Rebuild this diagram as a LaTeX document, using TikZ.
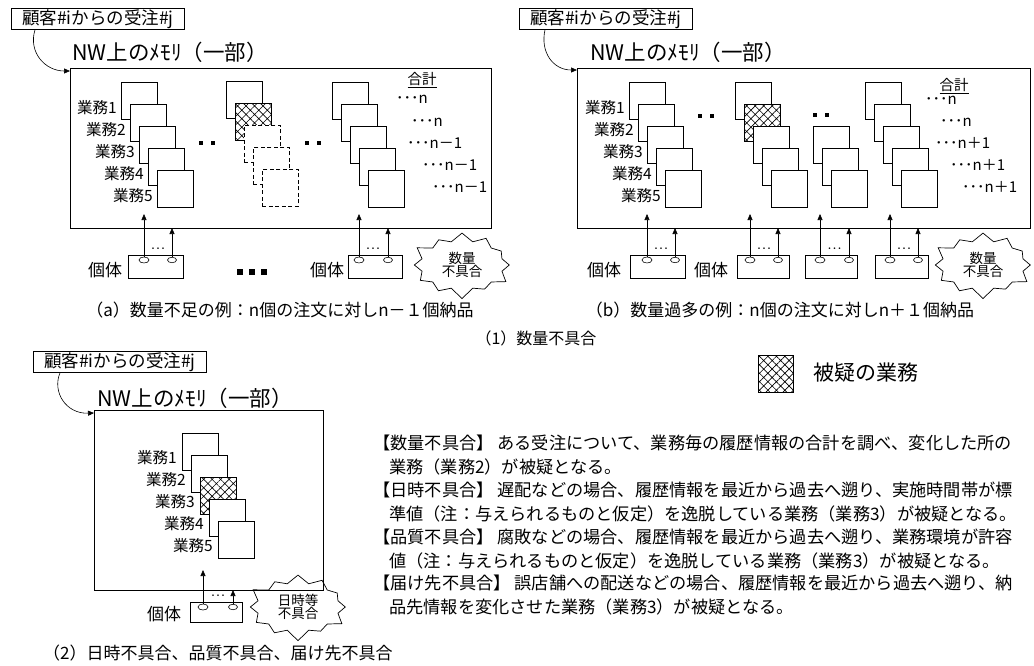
\documentclass[tikz,border=0pt]{standalone}
\usepackage{fontspec}
\setmainfont{Noto Sans CJK JP}
\usetikzlibrary{shapes.geometric,shapes.symbols,patterns.meta,arrows.meta}
\newcommand\myfs[1]{\fontsize{#1pt}{#1pt}\selectfont}
\tikzset{
  gbox/.style={draw,line width=0.8pt,fill=white,minimum width=36pt,minimum height=37pt,inner sep=0pt,anchor=north west},
  dbox/.style={gbox,dash pattern=on 4pt off 2.5pt},
  hbox/.style={gbox,postaction={pattern={Hatch[angle=45,distance=6pt,line width=0.6pt]}}},
  mem/.style={draw,line width=0.8pt,inner sep=0pt,anchor=north west},
  lbl/.style={draw,line width=0.8pt,anchor=north west,minimum width=173pt,minimum height=21pt,inner sep=1pt,font=\myfs{17.5}},
  nwt/.style={anchor=base west,inner sep=0pt,font=\myfs{21.5}},
  gyo/.style={anchor=east,inner sep=0pt,font=\myfs{15.5}},
  tot/.style={anchor=west,inner sep=0pt,font=\myfs{15}},
  sq/.style={fill=black,minimum size=4.5pt,inner sep=0pt},
  ind/.style={draw,line width=0.7pt,anchor=north west,minimum height=23pt,inner sep=0pt},
  indt/.style={inner sep=0pt,font=\myfs{17}},
  oval/.style={ellipse,draw,line width=0.6pt,fill=white,minimum width=10pt,minimum height=6pt,inner sep=0pt},
  arr/.style={line width=0.6pt,-{Triangle[length=6pt,width=5pt]}},
  burst/.style={starburst,draw,line width=0.7pt,starburst points=12,starburst point height=11pt,minimum width=100pt,minimum height=58pt,inner xsep=9pt,inner ysep=4pt,align=center,font=\myfs{13.5}},
  capt/.style={inner sep=0pt,font=\myfs{17}},
  body/.style={anchor=west,inner sep=0pt,font=\myfs{17.2}},
  tdots/.style={inner sep=0pt,font=\myfs{10}},
}
\begin{document}
\begin{tikzpicture}[x=1pt,y=-1pt]
\fill[white] (0,0) rectangle (1034,666);
\useasboundingbox (0,0) rectangle (1034,666);

% ================= Panel (a) =================
\node[lbl] (labA) at (11,8) {顧客\#iからの受注\#j};
\node[nwt] (nwA) at (72,61) {NW上のﾒﾓﾘ（一部）};
\node[mem,minimum width=421pt,minimum height=160pt] (memA) at (70,68) {};
\draw[arr] ([xshift=24pt]labA.south west) .. controls (28,52) and (45,71) .. ([yshift=-3pt]memA.north west);

\foreach \i in {1,...,5} \node[gbox] (A1b\i) at ({121+(\i-1)*9},{82+(\i-1)*22}) {};
\foreach \i in {1,...,5} \node[gyo] (A1l\i) at ({121+(\i-1)*9-4},{82+(\i-1)*22+26}) {業務\i};
\foreach \i/\st in {1/gbox,2/hbox,3/dbox,4/dbox,5/dbox} \node[\st] (A2b\i) at ({226+(\i-1)*9},{81+(\i-1)*22}) {};
\foreach \i in {1,...,5} \node[gbox] (A3b\i) at ({332+(\i-1)*9},{82+(\i-1)*22}) {};

\node[sq] (Ad1) at (201,143) {};
\node[sq] (Ad2) at (213,143) {};
\node[sq] (Ad3) at (307,143) {};
\node[sq] (Ad4) at (319,143) {};

\node[inner sep=0pt,font=\myfs{14.5}] (Asum) at (422,80) {\underline{合計}};
\node[tot] (At1) at (396,99) {･･･n};
\node[tot] (At2) at (411,122) {･･･n};
\node[tot] (At3) at (407,143) {･･･n－1};
\node[tot] (At4) at (422,165) {･･･n－1};
\node[tot] (At5) at (432,187) {･･･n－1};

\node[ind,minimum width=55pt] (Ai1) at (128,255) {};
\node[indt] (Ait1) at (105,270) {個体};
\node[oval] (Ao1) at (144,260) {};
\node[oval,minimum width=9pt,minimum height=5.5pt] (Ao2) at (172,260) {};
\coordinate (Ae1) at (144,214);
\coordinate (Ae2) at (172,228);
\draw[arr] (Ao1.north) -- (Ae1);
\draw[arr] (Ao2.north) -- (Ae2);
\node[tdots] (Aid1) at (158,250) {･･･};

\node[sq,minimum size=5.5pt] (Ab1) at (240,272) {};
\node[sq,minimum size=5.5pt] (Ab2) at (252,272) {};
\node[sq,minimum size=5.5pt] (Ab3) at (264,272) {};

\node[ind,minimum width=54pt] (Ai2) at (348,255) {};
\node[indt] (Ait2) at (327,270) {個体};
\node[oval] (Ao3) at (359,260) {};
\node[oval,minimum width=9pt,minimum height=5.5pt] (Ao4) at (388,260) {};
\coordinate (Ae3) at (359,214);
\coordinate (Ae4) at (388,228);
\draw[arr] (Ao3.north) -- (Ae3);
\draw[arr] (Ao4.north) -- (Ae4);
\node[tdots] (Aid2) at (373,250) {･･･};

\node[burst] (starA) at (462,265) {数量\\不具合};
\node[capt] (capA) at (280,310) {（a）数量不足の例：n個の注文に対しn－１個納品};

% ================= Panel (b) =================
\node[lbl] (labB) at (519,8) {顧客\#iからの受注\#j};
\node[nwt] (nwB) at (590,61) {NW上のﾒﾓﾘ（一部）};
\node[mem,minimum width=453pt,minimum height=160pt] (memB) at (577,68) {};
\draw[arr] ([xshift=26pt]labB.south west) .. controls (540,52) and (553,70) .. ([yshift=-2pt]memB.north west);

\foreach \i in {1,...,5} \node[gbox] (B1b\i) at ({629+(\i-1)*9},{82+(\i-1)*22}) {};
\foreach \i in {1,...,5} \node[gyo] (B1l\i) at ({629+(\i-1)*9-4},{82+(\i-1)*22+26}) {業務\i};
\foreach \i/\st in {1/gbox,2/hbox,3/gbox,4/gbox,5/gbox} \node[\st] (B2b\i) at ({735+(\i-1)*9},{82+(\i-1)*22}) {};
\foreach \i in {3,4,5} \node[gbox] (B3b\i) at ({795+(\i-1)*9},{82+(\i-1)*22}) {};
\foreach \i in {1,...,5} \node[gbox] (B4b\i) at ({865+(\i-1)*9},{82+(\i-1)*22}) {};

\node[sq] (Bd1) at (700,116) {};
\node[sq] (Bd2) at (712,116) {};
\node[sq] (Bd3) at (815,115) {};
\node[sq] (Bd4) at (827,115) {};

\node[inner sep=0pt,font=\myfs{14.5}] (Bsum) at (954,86) {\underline{合計}};
\node[tot] (Bt1) at (925,100) {･･･n};
\node[tot] (Bt2) at (940,122) {･･･n};
\node[tot] (Bt3) at (935,143) {･･･n＋1};
\node[tot] (Bt4) at (950,165) {･･･n＋1};
\node[tot] (Bt5) at (962,187) {･･･n＋1};

\node[indt] (Bit1) at (604,270) {個体};
\node[indt] (Bit2) at (711,270) {個体};
\foreach \k/\bx/\bw/\la/\sa in {1/630/55/647/675,2/737/52/750/778,3/805/52/820/849,4/875/53/890/918}{
  \node[ind,minimum width=\bw pt] (Bi\k) at (\bx,255) {};
  \node[oval] (Bol\k) at (\la,260) {};
  \node[oval,minimum width=9pt,minimum height=5.5pt] (Bos\k) at (\sa,260) {};
  \coordinate (Bel\k) at (\la,214);
  \coordinate (Bes\k) at (\sa,228);
  \draw[arr] (Bol\k.north) -- (Bel\k);
  \draw[arr] (Bos\k.north) -- (Bes\k);
  \node[tdots] (Bid\k) at ({(\la+\sa)/2},250) {･･･};
}
\node[burst,minimum width=95pt] (starB) at (983,265) {数量\\不具合};
\node[capt] (capB) at (780,310) {（b）数量過多の例：n個の注文に対しn＋１個納品};

\node[inner sep=0pt,font=\myfs{16}] (cap1) at (536,338) {（1）数量不具合};

% legend
\node[draw,line width=0.8pt,minimum width=35pt,minimum height=37pt,inner sep=0pt,anchor=north west,postaction={pattern={Hatch[angle=45,distance=6pt,line width=0.6pt]}}] (leg) at (758,355) {};
\node[anchor=west,inner sep=0pt,font=\myfs{21}] (legt) at (813,373) {被疑の業務};

% ================= Panel (2) =================
\node[lbl] (labC) at (33,351) {顧客\#iからの受注\#j};
\node[nwt] (nwC) at (97,406) {NW上のﾒﾓﾘ（一部）};
\node[mem,minimum width=229pt,minimum height=180pt] (memC) at (94,410) {};
\draw[arr] ([xshift=27pt]labC.south west) .. controls (52,392) and (66,414) .. ([yshift=-3pt]memC.north west);

\foreach \i/\st in {1/gbox,2/gbox,3/hbox,4/gbox,5/gbox} \node[\st] (C1b\i) at ({182+(\i-1)*9},{433+(\i-1)*22}) {};
\foreach \i in {1,...,5} \node[gyo] (C1l\i) at ({182+(\i-1)*9-5},{433+(\i-1)*22+25}) {業務\i};

\node[ind,minimum width=52pt,minimum height=20pt] (Ci1) at (190,602) {};
\node[indt] (Cit1) at (164,614) {個体};
\node[oval] (Co1) at (203,607) {};
\node[oval,minimum width=9pt,minimum height=5.5pt] (Co2) at (233,607) {};
\coordinate (Ce1) at (203,570);
\coordinate (Ce2) at (233,590);
\draw[arr] (Co1.north) -- (Ce1);
\draw[arr] (Co2.north) -- (Ce2);
\node[tdots] (Cid1) at (218,597) {･･･};
\node[burst,minimum width=92pt,minimum height=58pt] (starC) at (298,607) {日時等\\不具合};
\node[capt,anchor=west] (capC) at (43,653) {（2）日時不具合、品質不具合、届け先不具合};

% ================= right text =================
\node[body] (L1) at (373,443) {【数量不具合】 ある受注について、業務毎の履歴情報の合計を調べ、変化した所の};
\node[body] (L2) at (389,467) {業務（業務2）が被疑となる。};
\node[body] (L3) at (373,490) {【日時不具合】 遅配などの場合、履歴情報を最近から過去へ遡り、実施時間帯が標};
\node[body] (L4) at (389,514) {準値（注：与えられるものと仮定）を逸脱している業務（業務3）が被疑となる。};
\node[body] (L5) at (373,537) {【品質不具合】 腐敗などの場合、履歴情報を最近から過去へ遡り、業務環境が許容};
\node[body] (L6) at (389,561) {値（注：与えられるものと仮定）を逸脱している業務（業務3）が被疑となる。};
\node[body] (L7) at (373,583) {【届け先不具合】 誤店舗への配送などの場合、履歴情報を最近から過去へ遡り、納};
\node[body] (L8) at (389,607) {品先情報を変化させた業務（業務3）が被疑となる。};
\end{tikzpicture}
\end{document}
